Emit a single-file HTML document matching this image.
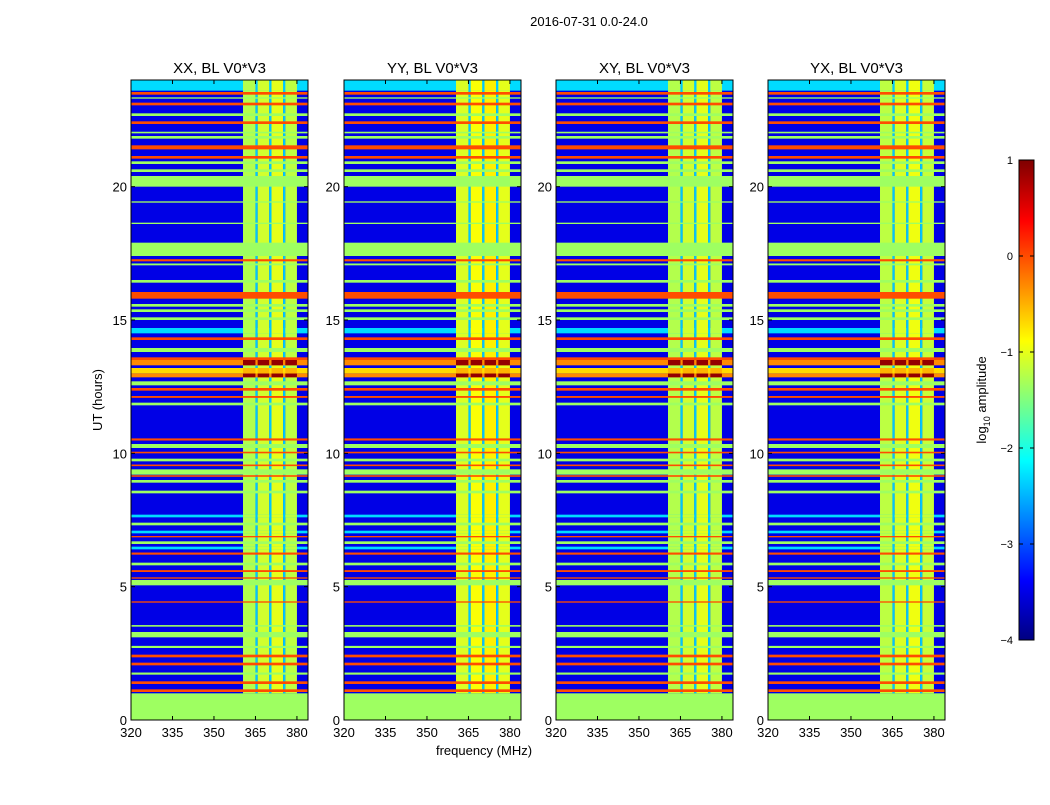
<!DOCTYPE html>
<html><head><meta charset="utf-8"><style>
body{margin:0;background:#fff;font-family:"Liberation Sans",sans-serif;}
svg text{font-family:"Liberation Sans",sans-serif;fill:#000;}
</style></head><body>
<svg id="fig" width="1050" height="800">
<text x="589" y="26" font-size="13" text-anchor="middle">2016-07-31 0.0-24.0</text>
<text x="484" y="755" font-size="13" text-anchor="middle">frequency (MHz)</text>
<text transform="translate(102,400) rotate(-90)" font-size="13" text-anchor="middle">UT (hours)</text>
<g id="panels"></g>
<g id="cbar"></g>
</svg>
<script>
const panelTitles=["XX, BL V0*V3","YY, BL V0*V3","XY, BL V0*V3","YX, BL V0*V3"];
const panelLefts=[131,344,556,768];
const xTicks=[320,335,350,365,380];
const yTicks=[0,5,10,15,20];
const cbarTicks=[1,0,-1,-2,-3,-4];
const baseLevel=-3.5;
const bandStartHour=1.0;
// frequency columns of the RFI band: [startMHz,endMHz,log10 amp]
const bandCols=[[360.5,365,-1.25],[365,365.8,-2.4],[365.8,370,-1.1],[370,370.8,-2.4],[370.8,375,-1.0],[375,375.8,-2.4],[375.8,380,-1.2]];
const panelBoost=[0,0.2,0,0.05];
// time row segments: [startHour,endHour,type]
const rowSegs=[[0,1,'g'],[1.05,1.15,'o'],[1.35,1.45,'o'],[1.7,1.78,'g'],[2.05,2.15,'o'],[2.35,2.45,'o'],[2.7,2.78,'g'],[3.1,3.3,'g'],[3.5,3.56,'g'],[4.4,4.45,'o'],[5.05,5.25,'g'],[5.3,5.35,'o'],[5.55,5.62,'o'],[5.8,5.9,'g'],[6.2,6.28,'o'],[6.4,6.5,'c'],[6.6,6.7,'g'],[6.85,6.9,'o'],[7.0,7.1,'c'],[7.3,7.4,'g'],[7.6,7.7,'c'],[8.5,8.6,'g'],[8.9,9.0,'g'],[9.12,9.18,'o'],[9.2,9.4,'g'],[9.52,9.58,'o'],[9.7,9.8,'g'],[10.0,10.06,'o'],[10.2,10.35,'g'],[10.48,10.56,'o'],[11.8,11.9,'g'],[12.08,12.15,'o'],[12.35,12.45,'o'],[12.55,12.7,'g'],[12.85,13.0,'r'],[13.0,13.2,'y'],[13.3,13.5,'r'],[13.5,13.6,'o'],[13.8,13.95,'g'],[14.25,14.35,'o'],[14.5,14.7,'c'],[15.0,15.1,'g'],[15.3,15.4,'g'],[15.5,15.6,'g'],[15.8,16.05,'o'],[16.4,16.5,'g'],[17.05,17.12,'g'],[17.2,17.28,'o'],[17.4,17.9,'g'],[18.6,18.65,'g'],[19.4,19.45,'g'],[20.0,20.4,'g'],[20.55,20.65,'g'],[20.85,20.95,'g'],[21.05,21.15,'o'],[21.4,21.55,'o'],[21.8,21.9,'g'],[22.0,22.06,'g'],[22.35,22.45,'o'],[22.65,22.75,'g'],[23.05,23.15,'o'],[23.3,23.35,'g'],[23.45,23.55,'o'],[23.6,24,'c']];
const typeOut={g:-1.35,o:0.0,c:-2.3,r:-0.3,y:-0.7};
const typeIn={g:-1.35,o:0.0,c:null,r:0.9,y:-0.5};

const NS="http://www.w3.org/2000/svg";
const PW=177,PT=80,PB=720,FMIN=320,FMAX=384,TMAX=24;
function jet(v){let t=Math.max(0,Math.min(1,(v+4)/5));
 const f=x=>Math.round(255*Math.max(0,Math.min(1,1.5-Math.abs(4*t-x))));
 return `rgb(${f(3)},${f(2)},${f(1)})`;}
function mk(tag,attrs,parent){const e=document.createElementNS(NS,tag);for(const k in attrs)e.setAttribute(k,attrs[k]);parent.appendChild(e);return e;}
const yS=h=>PB-(h/TMAX)*(PB-PT);
const panels=document.getElementById('panels');
panelLefts.forEach((L,p)=>{
 const xS=f=>L+(f-FMIN)/(FMAX-FMIN)*PW;
 const g=mk('g',{},panels);
 
 
 const bg=mk('rect',{x:L,y:PT,width:PW,height:PB-PT,fill:jet(baseLevel)},g);
 
 
 bandCols.forEach(c=>{
  const r=mk('rect',{x:xS(c[0]),y:yS(TMAX),width:xS(c[1])-xS(c[0]),height:yS(bandStartHour)-yS(TMAX),fill:jet(c[2]+(c[2]>-2?panelBoost[p]:0))},g);
  
  
 });
 rowSegs.forEach(s=>{
  const y0=yS(s[1]),hh=yS(s[0])-yS(s[1]);
  const r=mk('rect',{x:L,y:y0,width:PW,height:Math.max(hh,1),fill:jet(typeOut[s[2]])},g);
  
  
  if(typeIn[s[2]]===null){
   bandCols.forEach(c=>{const b=mk('rect',{x:xS(c[0]),y:y0,width:xS(c[1])-xS(c[0]),height:Math.max(hh,1),fill:jet(c[2]+(c[2]>-2?panelBoost[p]:0))},g);
    
    });
  } else if(s[2]==='r'||s[2]==='y'){
   bandCols.forEach(c=>{const v=c[2]<-2?typeOut[s[2]]:typeIn[s[2]];const b=mk('rect',{x:xS(c[0]),y:y0,width:xS(c[1])-xS(c[0]),height:Math.max(hh,1),fill:jet(v)},g);
    
    });
  }
 });
 const fr=mk('rect',{x:L,y:PT,width:PW,height:PB-PT,fill:'none',stroke:'#000','stroke-width':1},g);
 
 
 const t=mk('text',{x:L+PW/2,y:PT-7,'font-size':15,'text-anchor':'middle'},g);
 t.textContent=panelTitles[p];
 
 
 xTicks.forEach(v=>{const x=xS(v);
  mk('line',{x1:x,x2:x,y1:PB,y2:PB-4,stroke:'#000'},g);
  mk('line',{x1:x,x2:x,y1:PT,y2:PT+4,stroke:'#000'},g);
  const tx=mk('text',{x:x,y:PB+17,'font-size':13,'text-anchor':'middle'},g);tx.textContent=v;
  
  });
 yTicks.forEach(v=>{const y=yS(v);
  mk('line',{x1:L,x2:L+4,y1:y,y2:y,stroke:'#000'},g);
  mk('line',{x1:L+PW,x2:L+PW-4,y1:y,y2:y,stroke:'#000'},g);
  const ty=mk('text',{x:L-4,y:y+5,'font-size':13,'text-anchor':'end'},g);ty.textContent=v;
  
  });
});
// colorbar
const cb=document.getElementById('cbar');
const CX=1019,CW=15,CT=160,CB=640;
const cy=v=>CB-(v+4)/5*(CB-CT);
for(let i=0;i<240;i++){const v0=-4+i*5/240;mk('rect',{x:CX,y:cy(v0+5/240),width:CW,height:(CB-CT)/240+0.5,fill:jet(v0+2.5/240)},cb);}
mk('rect',{x:CX,y:CT,width:CW,height:CB-CT,fill:'none',stroke:'#000'},cb);
cbarTicks.forEach(v=>{const y=cy(v);
 mk('line',{x1:CX,x2:CX+4,y1:y,y2:y,stroke:'#000'},cb);
 mk('line',{x1:CX+CW,x2:CX+CW-4,y1:y,y2:y,stroke:'#000'},cb);
 const t=mk('text',{x:CX-6,y:y+4,'font-size':11,'text-anchor':'end'},cb);t.textContent=(v<0?'\u2212'+(-v):v);
 
 });
const cl=mk('text',{transform:'translate(986,400) rotate(-90)','font-size':13,'text-anchor':'middle'},cb);
cl.innerHTML='log<tspan font-size="9" dy="4">10</tspan><tspan dy="-4"> amplitude</tspan>';


</script>
</body></html>
